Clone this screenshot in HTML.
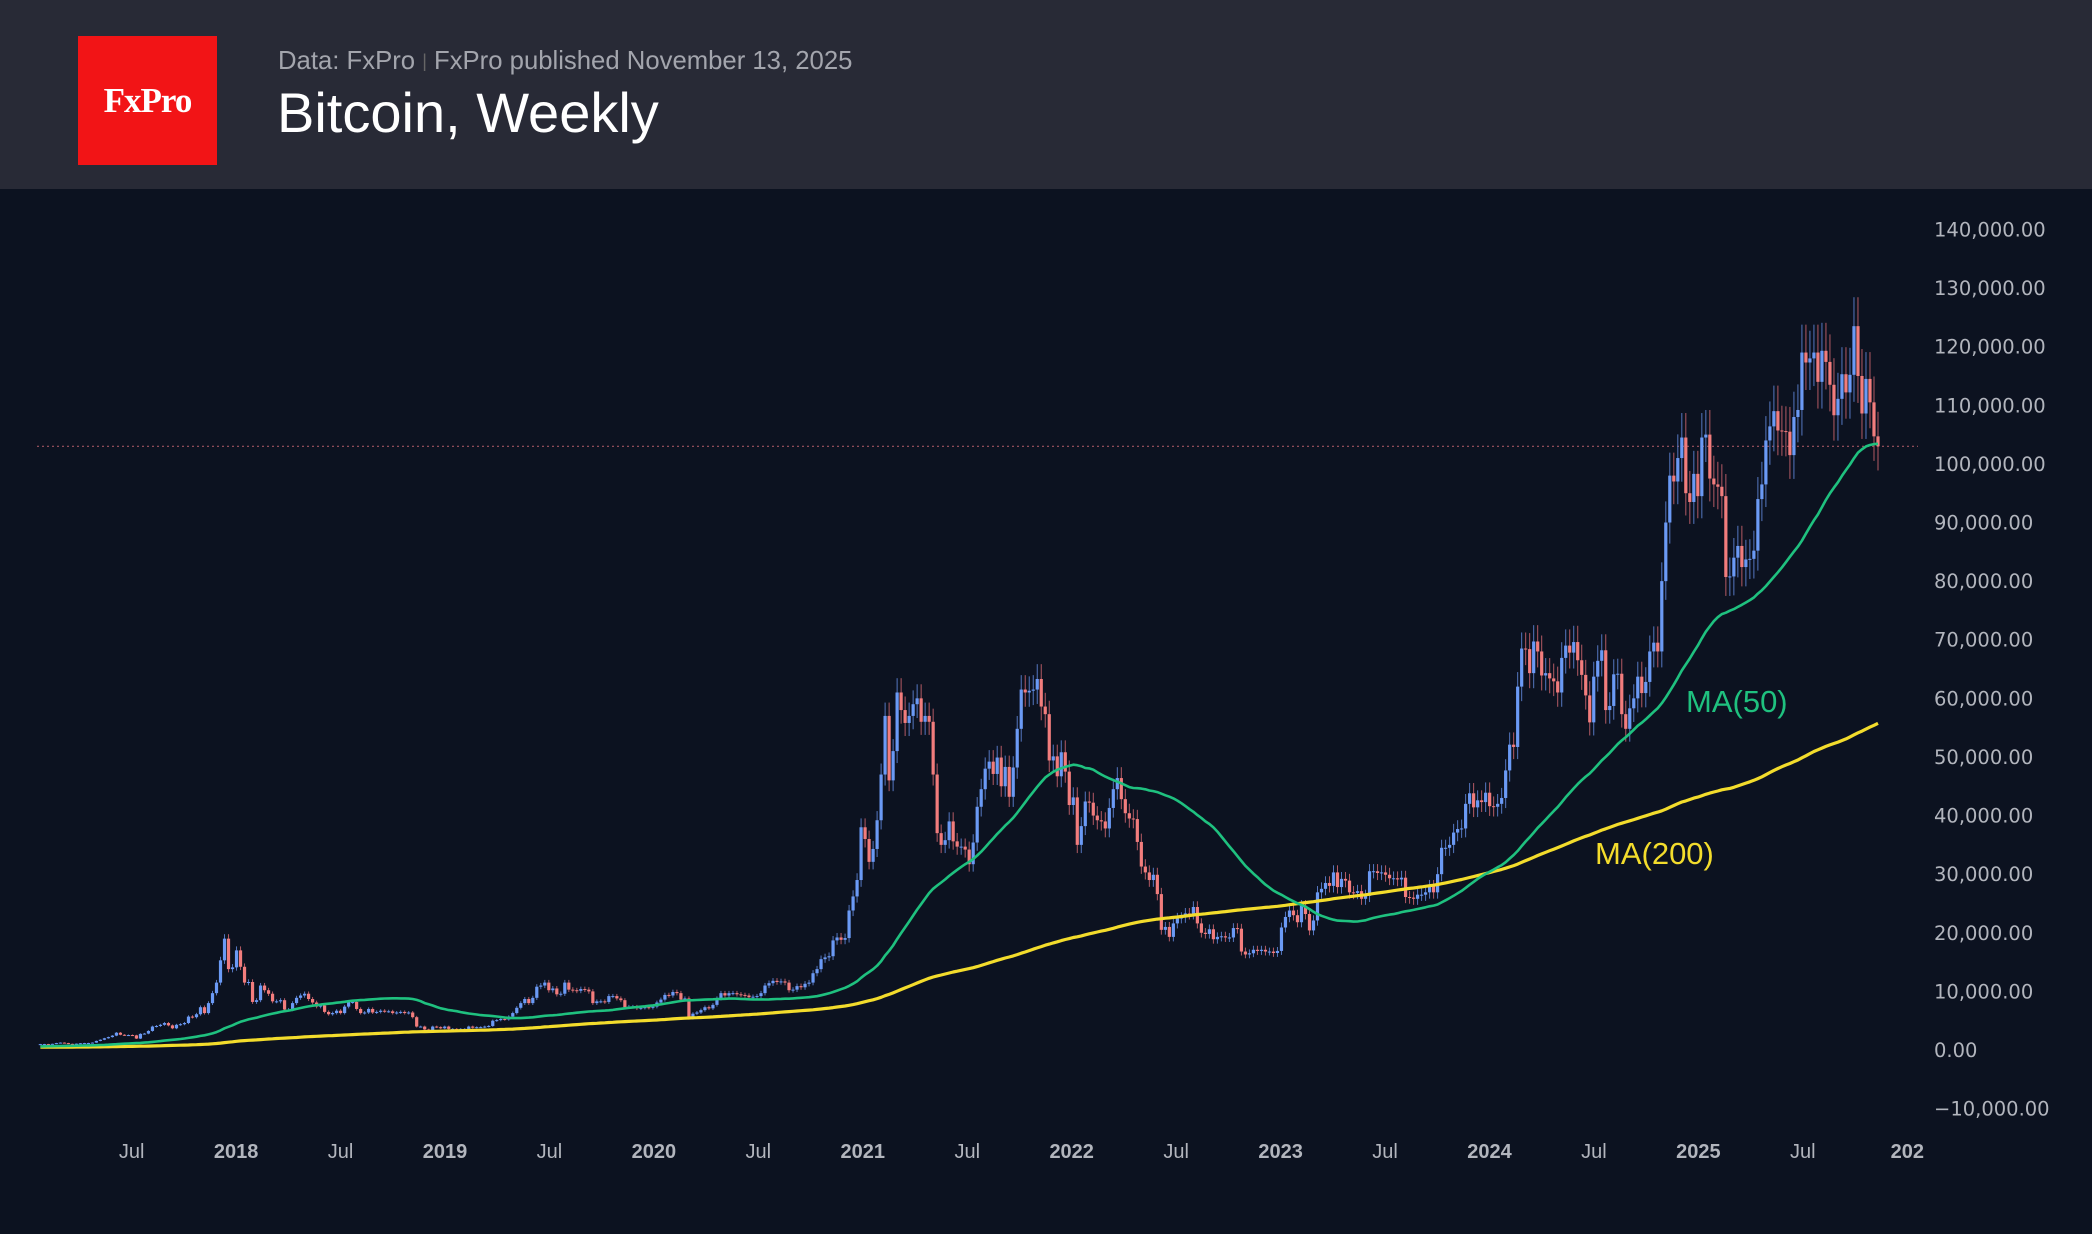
<!DOCTYPE html>
<html><head><meta charset="utf-8">
<style>
html,body{margin:0;padding:0;background:#0c1220;}
#root{position:relative;width:2092px;height:1234px;overflow:hidden;background:#0c1220;font-family:"Liberation Sans",sans-serif;}
#hdr{position:absolute;left:0;top:0;width:2092px;height:189px;background:#282a36;}
#logo{position:absolute;left:78px;top:36px;width:139px;height:129px;background:#f21416;color:#fff;font-family:"Liberation Serif",serif;font-weight:bold;font-size:35px;display:flex;align-items:center;justify-content:center;letter-spacing:-1px;}
#sub{position:absolute;left:278px;top:47px;font-size:25.7px;color:#a3a5ad;}
#title{position:absolute;left:277px;top:80px;font-size:56px;color:#fff;}
svg{position:absolute;left:0;top:0;}
</style></head><body>
<div id="root">
<div id="hdr">
<div id="logo">FxPro</div>
<div id="sub">Data: FxPro <span style="color:#666;font-size:18px;vertical-align:2px">|</span> FxPro published November 13, 2025</div>
<div id="title">Bitcoin, Weekly</div>
</div>
<svg id="chart" width="2092" height="1234"></svg>
</div>
<script>
const closesPre=[850,880,900,820,800,650,620,600,620,630,600,560,480,460,450,440,520,450,440,450,450,520,580,600,650,620,600,590,640,620,620,590,580,560,500,480,490,480,470,410,390,380,350,330,360,340,380,370,360,370,380,350,330,320,
320,280,230,220,230,240,250,255,270,290,270,250,250,240,230,225,235,240,235,230,225,230,240,250,270,280,290,280,270,260,230,225,230,230,240,240,230,240,250,270,310,330,380,360,330,370,390,420,430,
450,430,380,390,380,400,430,420,410,415,410,415,420,420,450,460,450,450,470,530,570,580,700,650,670,660,650,670,590,580,575,575,600,610,600,610,620,640,700,720,710,700,740,750,760,770,780,900,960];
const closes2017=[1000,900,920,1000,1010,1000,1050,1180,1260,1180,1050,960,1080,1150,1180,1190,1260,1550,1750,2000,2200,2450,2950,2600,2500,2550,2500,1950,2750,2800,3250,4000,4100,4300,4600,4200,3700,4300,4400,4600,5700,5600,6100,7300,6300,8000,9700,11500,15300,19000,13800,14100];
const closes2018=[17000,14200,11500,11600,8200,8500,11000,10200,9600,8300,8300,8500,6900,6900,8000,8900,9300,9600,8700,8100,7400,7600,6500,6100,6300,6700,6300,7400,8200,8200,7000,6300,6400,7000,6400,6500,6700,6600,6600,6300,6400,6500,6300,6400,5600,4000,4000,3500,3200,4000,3900,3700];
const closes2019=[4000,3600,3600,3500,3600,3600,4000,3800,3900,3900,4000,4100,5000,5100,5300,5200,5700,6300,7200,8000,8700,8000,8900,10800,11000,11500,10200,10500,9500,9600,11500,10300,10200,10100,10400,10300,10000,8000,8300,8300,8200,9200,9200,8800,8500,7300,7400,7400,7100,7200,7300,7200];
const closes2020=[7400,8100,8600,9400,9300,9900,9700,8600,8800,5400,6200,6400,6800,7300,7100,7700,8800,9700,9300,9700,9700,9500,9400,9300,9000,9100,9200,9700,11000,11400,11800,11600,11700,11500,10200,10300,10900,10700,11300,11500,13100,13800,15500,15800,16000,18700,19200,18800,19100,23800,26200,29000];
const closes2021=[38000,36000,32100,34300,39200,47000,57000,46000,51000,61000,58000,55800,57000,59000,60000,56000,57000,56000,47000,37000,35000,35800,39000,35600,34700,34700,34200,31700,35400,41500,44500,48000,49200,47100,49900,45000,48300,43200,48200,54800,61500,61000,61300,61500,63300,58600,57300,49400,50100,46700,50800,47500];
const closes2022=[41800,43100,35000,38200,42400,42200,40000,39200,39000,37800,41300,44500,46400,42800,40400,39500,39400,35500,31300,30300,29000,29900,26600,20500,21000,19300,21600,22500,22600,23300,23200,24400,21600,20000,19800,20600,18900,19300,19400,19200,19200,20800,20700,16800,16300,16500,17100,16900,17100,16800,16800,16550];
const closes2023=[16900,20900,22700,23800,23000,21800,24600,23200,20400,22100,26900,27500,28500,28000,30300,27800,29200,28900,26900,26800,27100,25800,26300,30500,30500,30200,30300,29900,29300,29300,29100,29400,26100,26000,25800,26500,26500,26900,27900,26900,30000,34500,34500,35000,37100,37700,37800,42000,43800,41400,42600,42300];
const closes2024=[43900,41600,41500,42000,43000,47700,52100,51700,62000,68500,68400,64300,69700,68000,63900,64300,63400,62900,61000,66900,69000,67800,69600,66500,64000,60500,55900,63700,66400,68200,58000,58700,64100,64200,57300,54800,58300,60000,63700,60900,62800,68000,69500,68000,80000,90000,98000,97000,101000,104500,95000,93500];
const closes2025=[98300,94500,104500,105000,97500,96500,96100,94500,80700,80800,84000,86000,82400,83700,83800,85200,94000,96500,104000,106400,109000,105700,105600,105500,101500,108000,109200,119000,117300,118000,119000,114000,119300,117400,113500,108300,111100,115300,112200,115200,123500,115000,108600,114500,110500,104700,103000];
const yTicks=[140000,130000,120000,110000,100000,90000,80000,70000,60000,50000,40000,30000,20000,10000,0,-10000];
const xTickLabels=["Jul","2018","Jul","2019","Jul","2020","Jul","2021","Jul","2022","Jul","2023","Jul","2024","Jul","2025","Jul","202"];
const xTickTimes=[2017.5,2018,2018.5,2019,2019.5,2020,2020.5,2021,2021.5,2022,2022.5,2023,2023.5,2024,2024.5,2025,2025.5,2026];
const currentPrice=103000;

const closes=[].concat(closes2017,closes2018,closes2019,closes2020,closes2021,closes2022,closes2023,closes2024,closes2025);
const allCloses=closesPre.concat(closes);
const PRE=closesPre.length;
const NS="http://www.w3.org/2000/svg";
const svg=document.getElementById('chart');
function yOf(v){return 1050-v*0.005861;}
function xOfT(t){return 236.1+(t-2018)*208.9;}
function xOf(i){return xOfT(2017+(2+7*i)/365.25);}
function mk(tag,attrs){const e=document.createElementNS(NS,tag);for(const k in attrs)e.setAttribute(k,attrs[k]);svg.appendChild(e);return e;}
const START=3;

yTicks.forEach(v=>{
  const t=mk('text',{x:1934,y:yOf(v)+7,fill:'#b2b5bd','font-size':19.5,'font-family':'"DejaVu Sans",sans-serif'});
  
  
  t.textContent=v.toLocaleString('en-US',{minimumFractionDigits:2}).replace('-','\u2212');
});
xTickLabels.forEach((l,k)=>{
  const yr=l!=="Jul";
  const t=mk('text',{x:xOfT(xTickTimes[k]),y:1158,fill:'#b2b5bd','font-size':20,'font-weight':yr?'bold':'normal','text-anchor':'middle','font-family':'"Liberation Sans",sans-serif'});
  
  
  t.textContent=l;
});
const pl=mk('line',{x1:37,x2:1918,y1:yOf(currentPrice),y2:yOf(currentPrice),stroke:'#a05560','stroke-width':1.2,'stroke-dasharray':'2,3'});



for(let i=START;i<closes.length;i++){
  const c=closes[i], o=closes[i-1];
  const up=c>=o;
  const hi=Math.max(o,c)*1.04, lo=Math.min(o,c)*0.96;
  const x=xOf(i);
  const w=mk('line',{x1:x,x2:x,y1:yOf(hi),y2:yOf(lo),stroke:up?'#5577c0':'#b45a64','stroke-width':1});
  
  
  const top=yOf(Math.max(o,c)), bot=yOf(Math.min(o,c));
  const b=mk('rect',{x:x-1.6,y:top,width:3.2,height:Math.max(1,bot-top),fill:up?'#6b9af5':'#f27d7d'});
  
  
}
function ma(n){const r=[];let s=0;for(let i=0;i<allCloses.length;i++){s+=allCloses[i];if(i>=n)s-=allCloses[i-n];r.push(s/Math.min(n,i+1));}return r.slice(PRE);}
function line(vals,color,w,name){
  let d='';let first=true;
  vals.forEach((v,i)=>{if(i<START)return;d+=(first?'M':'L')+xOf(i).toFixed(1)+','+yOf(v).toFixed(1);first=false;});
  const p=mk('path',{d:d,fill:'none',stroke:color,'stroke-width':w,'stroke-linejoin':'round'});
  
  
}
line(ma(200),'#f3dc2c',3.2,'ma200-line');
line(ma(50),'#1fc17f',2.6,'ma50-line');
const l1=mk('text',{x:1686,y:712,fill:'#1fc17f','font-size':31,'font-family':'"Liberation Sans",sans-serif'});


l1.textContent='MA(50)';
const l2=mk('text',{x:1595,y:864,fill:'#f3dc2c','font-size':31,'font-family':'"Liberation Sans",sans-serif'});


l2.textContent='MA(200)';
</script>
</body></html>
